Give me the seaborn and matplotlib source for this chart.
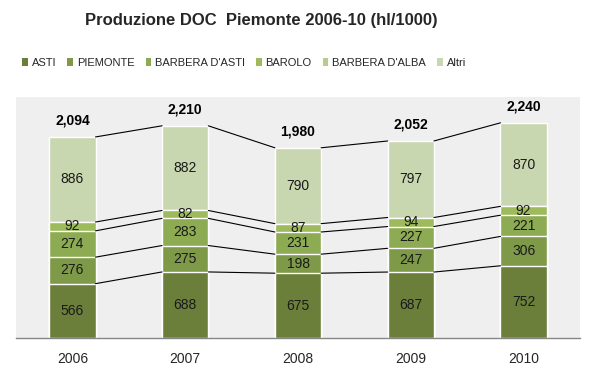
import numpy as np
import matplotlib
matplotlib.use("Agg")
import matplotlib.pyplot as plt
from matplotlib.patches import Patch
import pandas as pd
import seaborn as sns

years = ['2006', '2007', '2008', '2009', '2010']
series = ['ASTI', 'PIEMONTE', "BARBERA D'ASTI", 'BAROLO', "BARBERA D'ALBA", 'Altri']
asti = [566, 688, 675, 687, 752]
piemonte = [276, 275, 198, 247, 306]
barbera_asti = [274, 283, 231, 227, 221]
barolo = [92, 82, 87, 94, 92]
barbera_alba = [0, 0, 0, 0, 0]
altri = [886, 882, 790, 797, 870]
totals = [2094, 2210, 1980, 2052, 2240]

colors = ['#6b7f3b', '#7e9a48', '#8dab53', '#9dbb5c', '#b6cb8c', '#c8d7af']
BG = '#efefef'

values = [asti, piemonte, barbera_asti, barolo, barbera_alba, altri]
cum = np.cumsum(np.array(values), axis=0)

sns.set_style('white')
plt.rcParams['font.family'] = ['Liberation Sans', 'DejaVu Sans']

fig = plt.figure(figsize=(5.98, 3.84), dpi=100)
ax = fig.add_axes([16 / 598, 46 / 384, 564 / 598, 241 / 384])
ax.set_facecolor(BG)

# stacked bars: draw the tallest cumulative layer first
for i in range(len(series) - 1, -1, -1):
    df = pd.DataFrame({'year': years, 'value': cum[i]})
    sns.barplot(data=df, x='year', y='value', color=colors[i], width=0.41,
                edgecolor='white', linewidth=1.0, saturation=1, ax=ax)

half = 0.205
# series lines between bars
for i in range(len(series)):
    if i == 4:
        continue
    for j in range(len(years) - 1):
        ax.plot([j + half, j + 1 - half], [cum[i][j], cum[i][j + 1]],
                color='black', lw=0.8, zorder=1)

# segment labels
for i in range(len(series)):
    for j in range(len(years)):
        v = values[i][j]
        if v == 0:
            continue
        ax.text(j, cum[i][j] - v / 2, str(v), ha='center', va='center',
                fontsize=10, color='#1a1a1a')

for j, t in enumerate(totals):
    ax.text(j, t + 175, f'{t:,}', ha='center', va='center', fontsize=10,
            fontweight='bold', color='black')

ax.set_xlim(-0.5, 4.5)
ax.set_ylim(0, 2510)
ax.set_yticks([])
ax.set_xlabel('')
ax.set_ylabel('')
for s in ['top', 'left', 'right']:
    ax.spines[s].set_visible(False)
ax.spines['bottom'].set_color('#868686')
ax.spines['bottom'].set_linewidth(1.0)
ax.tick_params(axis='x', length=0, pad=10, labelsize=10)

fig.text(261 / 598, 1 - 20 / 384, 'Produzione DOC  Piemonte 2006-10 (hl/1000)',
         ha='center', va='center', fontsize=12, fontweight='bold')

handles = [Patch(facecolor=c, edgecolor='none') for c in colors]
fig.legend(handles, series, loc='center', bbox_to_anchor=(244 / 598, 1 - 63 / 384),
           ncol=6, frameon=False, fontsize=8, handlelength=0.5, handleheight=0.7,
           handletextpad=0.35, columnspacing=1.0, borderpad=0, borderaxespad=0)

fig.savefig('out.png', dpi=100, facecolor='white')
